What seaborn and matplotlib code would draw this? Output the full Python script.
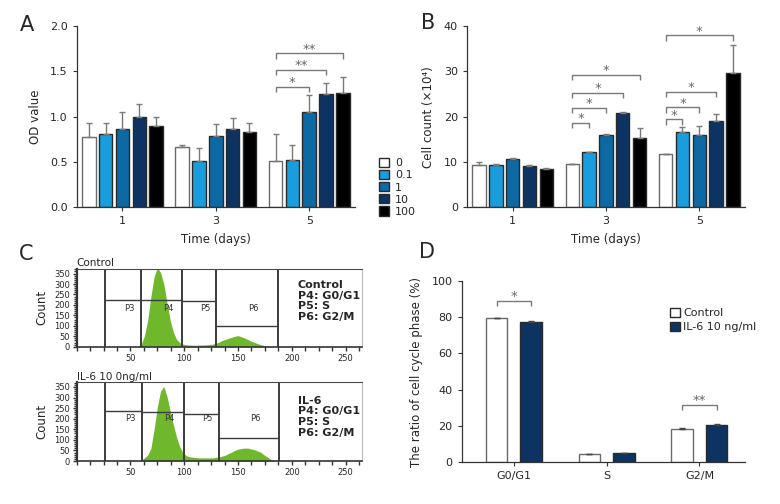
import numpy as np
import pandas as pd
import seaborn as sns
import matplotlib.pyplot as plt
from matplotlib.ticker import MultipleLocator

sns.set_style('ticks')
plt.rcParams['font.family'] = ['DejaVu Sans']
plt.rcParams['axes.edgecolor'] = '#333333'

# panel A / B: dose groups over days
days = ['1', '3', '5']
doses = ['0', '0.1', '1', '10', '100']
dose_colors = ['#ffffff', '#1a9ddd', '#0c69a3', '#0c3361', '#000000']

# rows = days 1, 3, 5 ; columns = doses 0 .. 100
od_mean = [[0.77, 0.81, 0.86, 1.00, 0.90],
           [0.66, 0.51, 0.79, 0.86, 0.83],
           [0.51, 0.52, 1.05, 1.25, 1.26]]
od_err = [[0.16, 0.12, 0.19, 0.14, 0.10],
          [0.03, 0.14, 0.13, 0.13, 0.10],
          [0.30, 0.17, 0.19, 0.12, 0.18]]

cell_mean = [[9.3, 9.4, 10.6, 9.1, 8.5],
             [9.6, 12.2, 16.0, 20.8, 15.2],
             [11.8, 16.6, 15.9, 19.1, 29.7]]
cell_err = [[0.8, 0.2, 0.3, 0.2, 0.1],
            [0.0, 0.1, 0.1, 0.2, 2.3],
            [0.0, 1.1, 2.0, 1.4, 6.1]]

# significance brackets: (day index, dose from, dose to, height, label)
od_sig = [(2, 0, 2, 1.33, '*'), (2, 0, 3, 1.52, '**'), (2, 0, 4, 1.70, '**')]
cell_sig = [(1, 0, 1, 18.7, '*'), (1, 0, 2, 22.0, '*'), (1, 0, 3, 25.3, '*'),
            (1, 0, 4, 29.2, '*'), (2, 0, 1, 19.4, '*'), (2, 0, 2, 22.1, '*'),
            (2, 0, 3, 25.5, '*'), (2, 0, 4, 38.0, '*')]

# panel C: DNA content histograms (count per channel)
fl_channel = list(range(57, 187, 3))
ctrl_counts = [0, 10, 52, 125, 240, 335, 378, 355, 300, 210,
               125, 68, 34, 19, 12, 9, 8, 7, 7, 8,
               8, 9, 10, 12, 16, 21, 29, 34, 40, 45,
               50, 53, 48, 42, 35, 27, 21, 15, 10, 6,
               3, 1, 0, 0]
il6_counts = [0, 3, 15, 28, 60, 150, 255, 330, 352, 305,
              235, 170, 110, 65, 38, 25, 20, 18, 16, 15,
              15, 15, 15, 15, 17, 19, 23, 27, 35, 42,
              50, 56, 59, 61, 61, 57, 54, 48, 42, 30,
              20, 9, 3, 0]
gate_names = ['P3', 'P4', 'P5', 'P6']
ctrl_gate_edges = [26, 60, 98, 130, 187]
ctrl_gate_levels = [225, 222, 218, 99]
il6_gate_edges = [26, 61, 99.5, 132, 188]
il6_gate_levels = [238, 232, 224, 109]

# panel D: cell cycle phases
phases = ['G0/G1', 'S', 'G2/M']
groups = ['Control', 'IL-6 10 ng/ml']
ctrl_pct = [79.5, 4.4, 18.5]
ctrl_pct_err = [0.3, 0.1, 0.3]
il6_pct = [77.4, 4.8, 20.6]
il6_pct_err = [0.3, 0.2, 0.3]
phase_sig = [(0, 89.2, '*'), (2, 31.6, '**')]

TICK_FS = 8
LABEL_FS = 8.5
GREY = '#7a7a7a'


def add_bracket(ax, x1, x2, y, leg, label):
    ax.plot([x1, x1, x2, x2], [y - leg, y, y, y - leg], color=GREY, lw=1,
            solid_capstyle='butt')
    ax.text((x1 + x2) / 2, y + leg * 0.1, label, ha='center', va='baseline',
            fontsize=9.5, color='#666666')


def style_bar_axes(ax):
    sns.despine(ax=ax)
    ax.tick_params(labelsize=TICK_FS, length=3, width=0.8, color='#333333')
    for s in ['left', 'bottom']:
        ax.spines[s].set_linewidth(0.9)


def dose_panel(ax, mean, err, sig, ylim, ystep, ylabel, leg):
    df = pd.DataFrame([(days[i], doses[j], mean[i][j])
                       for i in range(len(days)) for j in range(len(doses))],
                      columns=['day', 'dose', 'value'])
    sns.barplot(data=df, x='day', y='value', hue='dose', hue_order=doses,
                palette=dose_colors, width=0.9, gap=0.2, errorbar=None,
                edgecolor='#2a2a2a', linewidth=1, saturation=1, ax=ax)
    bar_conts = list(ax.containers)
    for c in bar_conts[0]:
        c.set_edgecolor('#6a6a6a')
    centers = []
    for j, cont in enumerate(bar_conts):
        xs = [b.get_x() + b.get_width() / 2 for b in cont]
        ys = [b.get_height() for b in cont]
        errs = [err[i][j] for i in range(len(days))]
        ax.errorbar(xs, ys, yerr=[np.zeros(len(xs)), errs], fmt='none',
                    ecolor=GREY, elinewidth=1, capsize=2.5, capthick=1)
        centers.append(xs)
    for day_i, a, b, y, lab in sig:
        add_bracket(ax, centers[a][day_i], centers[b][day_i], y, leg, lab)
    ax.set_ylim(*ylim)
    ax.set_xlim(-0.49, 2.49)
    ax.yaxis.set_major_locator(MultipleLocator(ystep))
    ax.set_xlabel('Time (days)', fontsize=LABEL_FS, labelpad=5)
    ax.set_ylabel(ylabel, fontsize=LABEL_FS, labelpad=6)
    style_bar_axes(ax)


fig = plt.figure(figsize=(7.8, 5.04), dpi=100)

axA = fig.add_axes([0.0983, 0.5887, 0.3568, 0.3597])
dose_panel(axA, od_mean, od_err, od_sig, (0, 2.0), 0.5, 'OD value', 0.06)
axA.yaxis.set_major_formatter(plt.FormatStrFormatter('%.1f'))
sns.move_legend(axA, 'center left', bbox_to_anchor=(1.065, 0.11),
                frameon=False, title=None, fontsize=8, handlelength=0.9,
                handleheight=0.9, labelspacing=0.15, handletextpad=0.6,
                borderpad=0)

axB = fig.add_axes([0.5987, 0.5887, 0.3564, 0.3597])
dose_panel(axB, cell_mean, cell_err, cell_sig, (0, 40), 10,
           'Cell count (×10⁴)', 1.2)
axB.get_legend().remove()

# panel C
hist_axes = [fig.add_axes([0.0983, 0.3121, 0.3654, 0.1542]),
             fig.add_axes([0.0983, 0.0853, 0.3654, 0.1562])]
hist_sets = [(ctrl_counts, ctrl_gate_edges, ctrl_gate_levels, 'Control',
              'Control\nP4: G0/G1\nP5: S\nP6: G2/M', 0.86, 184),
             (il6_counts, il6_gate_edges, il6_gate_levels, 'IL-6 10 0ng/ml',
              'IL-6\nP4: G0/G1\nP5: S\nP6: G2/M', 0.83, 201)]
for ax, (counts, edges, levels, title, note, note_y, lab_y) in zip(hist_axes,
                                                                  hist_sets):
    hist_df = pd.DataFrame({'channel': fl_channel, 'count': counts})
    sns.histplot(data=hist_df, x='channel', weights='count', binwidth=3,
                 binrange=(55.5, 187.5), element='poly', fill=True,
                 color='#6fb82c', alpha=1, linewidth=0, ax=ax)
    ax.set_xlim(0, 265)
    ax.set_ylim(0, 372)
    for e in edges:
        ax.axvline(e, color='#3c3c3c', lw=1.4)
    for k in range(4):
        ax.hlines(levels[k], edges[k], edges[k + 1], color='#3c3c3c', lw=1)
        ax.text((edges[k] + edges[k + 1]) / 2 + 6, lab_y, gate_names[k],
                ha='center', va='center', fontsize=6, color='#333333')
    ax.text(0.775, note_y, note, transform=ax.transAxes, ha='left', va='top',
            fontsize=8, fontweight='bold', linespacing=1.1)
    ax.set_title(title, loc='left', fontsize=7.5, pad=2)
    ax.set_ylabel('Count', fontsize=LABEL_FS, labelpad=4)
    ax.set_xlabel('')
    ax.xaxis.set_major_locator(MultipleLocator(50))
    ax.xaxis.set_minor_locator(MultipleLocator(12.5))
    ax.yaxis.set_major_locator(MultipleLocator(50))
    ax.yaxis.set_minor_locator(MultipleLocator(10))
    ax.set_xticks([50, 100, 150, 200, 250])
    ax.tick_params(which='both', labelsize=6, length=3, width=1,
                   color='#333333', pad=2)
    ax.tick_params(axis='y', which='minor', length=2)
    ax.spines['left'].set_linewidth(1.6)
    ax.spines['bottom'].set_linewidth(1.2)
    ax.spines['top'].set_color('#4a4a4a')
    ax.spines['right'].set_color('#bbbbbb')

# panel D
axD = fig.add_axes([0.5919, 0.0833, 0.3632, 0.3591])
dfD = pd.DataFrame({'phase': phases * 2,
                    'group': [groups[0]] * 3 + [groups[1]] * 3,
                    'pct': ctrl_pct + il6_pct})
sns.barplot(data=dfD, x='phase', y='pct', hue='group', hue_order=groups,
            palette=['#ffffff', '#0c3361'], width=0.74, gap=0.37,
            errorbar=None, edgecolor='#2a2a2a', linewidth=1, saturation=1,
            ax=axD)
d_conts = list(axD.containers)
for c in d_conts[0]:
    c.set_edgecolor('#6a6a6a')
d_centers = []
for cont, errs in zip(d_conts, [ctrl_pct_err, il6_pct_err]):
    xs = [b.get_x() + b.get_width() / 2 for b in cont]
    ys = [b.get_height() for b in cont]
    axD.errorbar(xs, ys, yerr=[np.zeros(3), errs], fmt='none',
                 ecolor='#444444', elinewidth=1, capsize=2.5, capthick=1)
    d_centers.append(xs)
for k, y, lab in phase_sig:
    add_bracket(axD, d_centers[0][k], d_centers[1][k], y, 3, lab)
axD.set_ylim(0, 100)
axD.set_xlim(-0.56, 2.49)
axD.yaxis.set_major_locator(MultipleLocator(20))
axD.set_xlabel('')
axD.set_ylabel('The ratio of cell cycle phase (%)', fontsize=LABEL_FS,
               labelpad=6)
style_bar_axes(axD)
sns.move_legend(axD, 'center left', bbox_to_anchor=(0.715, 0.785),
                frameon=False, title=None, fontsize=8, handlelength=0.9,
                handleheight=0.9, labelspacing=0.35, handletextpad=0.3,
                borderpad=0)

for letter, x, y in [('A', 0.026, 0.95), ('B', 0.54, 0.955),
                     ('C', 0.024, 0.497), ('D', 0.537, 0.5)]:
    fig.text(x, y, letter, fontsize=15, ha='left', va='center')

fig.savefig('out.png', dpi=100)
